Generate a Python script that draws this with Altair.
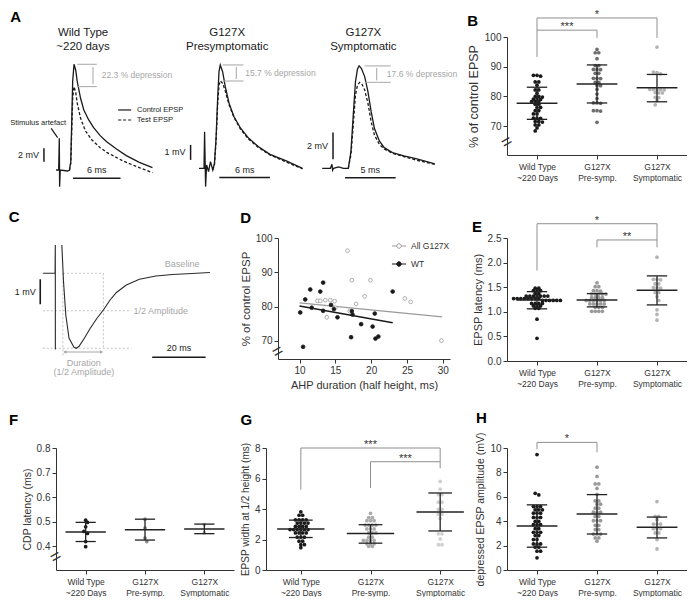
import altair as alt
import pandas as pd

FONT = "Liberation Sans"
INK = "#333333"
BLACK = "#1a1a1a"
GREY = "#a6a6a6"
BRKC = "#8f8f8f"
BARC = "#222222"

# ---------------- categories ----------------
CAT_LINES = [["Wild Type", "~220 Days"], ["G127X", "Pre-symp."], ["G127X", "Symptomatic"]]

# ---------------- Panel A : EPSP traces (ms, mV) ----------------
A_TITLES = [["Wild Type", "~220 days"], ["G127X", "Presymptomatic"], ["G127X", "Symptomatic"]]
A_DEPRESSION = ["22.3 % depression", "15.7 % depression", "17.6 % depression"]
A_MV_BAR = [2, 1, 2]
A_MS_BAR = [6, 6, 5]

A1_CTRL_T = [-0.41, -0.08, 0.0, 0.04, 0.12, 1.03, 1.28, 1.45, 1.57, 1.69, 1.86, 2.07, 2.27, 2.69, 3.10, 3.72, 4.34, 5.17, 5.99, 7.23, 8.47, 10.12, 11.78]
A1_CTRL_V = [0, 0, 4.75, -2.5, 0, -0.15, -0.05, 1.25, 7.25, 13.25, 15.85, 15.0, 13.25, 10.75, 9.0, 7.5, 6.35, 5.15, 4.25, 3.15, 2.15, 1.15, 0.35]
A1_TEST_T = [1.28, 1.45, 1.57, 1.69, 1.86, 2.07, 2.27, 2.69, 3.31, 4.13, 5.17, 5.99, 8.06, 10.12, 11.78]
A1_TEST_V = [-0.05, 1.0, 5.75, 10.75, 12.5, 11.65, 10.0, 7.75, 5.85, 4.5, 3.35, 2.65, 1.35, 0.35, -0.4]

A2_CTRL_T = [-0.78, -0.19, -0.12, 0.0, 0.12, 0.35, 0.58, 0.85, 1.05, 1.24, 1.43, 1.59, 1.74, 2.02, 2.33, 2.79, 3.37, 4.15, 5.12, 6.28, 7.64, 9.57, 11.5]
A2_CTRL_V = [0, 0, 2.44, -1.22, 0.22, -0.22, 0.44, -0.11, 0.33, 2.0, 4.67, 6.44, 6.89, 6.44, 5.44, 4.33, 3.44, 2.67, 2.0, 1.44, 0.93, 0.49, 0.0]
A2_TEST_T = [0.85, 1.05, 1.24, 1.43, 1.59, 1.74, 2.02, 2.33, 2.79, 3.37, 4.15, 5.12, 6.28, 7.64, 9.57, 11.5]
A2_TEST_V = [-0.11, 0.22, 1.78, 4.22, 5.56, 5.82, 5.67, 5.16, 4.22, 3.38, 2.6, 1.93, 1.38, 0.89, 0.42, -0.04]

A3_CTRL_T = [-0.97, -0.16, 0.0, 0.06, 0.16, 0.65, 1.13, 1.61, 1.87, 2.10, 2.32, 2.52, 2.68, 2.90, 3.23, 3.55, 3.87, 4.19, 4.68, 5.16, 5.97, 7.10, 8.39, 10.16]
A3_CTRL_V = [0, 0, 0.3, -0.15, 0, 0.1, 0, 0, 1.25, 4.0, 6.5, 7.45, 7.68, 7.5, 6.88, 5.75, 4.25, 3.0, 2.05, 1.55, 1.18, 0.93, 0.7, 0.33]
A3_TEST_T = [1.61, 1.87, 2.10, 2.32, 2.52, 2.74, 2.97, 3.23, 3.55, 3.87, 4.19, 4.68, 5.16, 5.97, 7.10, 8.39, 10.16]
A3_TEST_V = [0, 1.0, 3.25, 5.5, 6.25, 6.45, 6.3, 5.88, 4.88, 3.5, 2.5, 1.8, 1.45, 1.13, 0.88, 0.6, 0.3]

# ---------------- Panel C : AHP trace (ms, mV) ----------------
C_SEG1_T = [-4.66, -0.1, 0.0, 0.02]
C_SEG1_V = [0, 0, 1.13, -3.05]
C_SEG2_T = [2.45, 3.07, 3.93, 5.15, 7.0, 7.85, 8.83, 10.7, 13.1, 15.6, 18.0, 20.5, 22.9, 26.6, 31.5, 37.7, 43.8, 51.2, 57.9]
C_SEG2_V = [1.13, -0.33, -1.67, -2.6, -2.96, -3.0, -2.93, -2.63, -2.2, -1.8, -1.47, -1.07, -0.77, -0.47, -0.24, -0.11, -0.05, -0.01, 0.03]

# ---------------- Panel D : scatter ----------------
D_G_X = [16.7, 17.3, 19.9, 19.1, 12.5, 12.9, 13.6, 14.3, 14.9, 17.9, 24.7, 25.5, 15.0, 13.8, 17.0, 29.8]
D_G_Y = [96.3, 87.7, 87.7, 83.0, 81.7, 81.7, 81.9, 81.9, 81.6, 80.8, 82.4, 81.4, 79.7, 76.9, 78.7, 70.1]
D_W_X = [10.1, 10.8, 11.5, 12.9, 13.3, 11.7, 13.3, 14.4, 14.8, 15.3, 17.3, 17.4, 17.2, 18.6, 20.2, 20.5, 20.6, 21.0, 23.0, 10.5]
D_W_Y = [78.3, 82.1, 85.0, 84.4, 87.0, 79.7, 78.8, 80.5, 79.3, 76.9, 78.7, 77.7, 71.1, 74.9, 74.2, 78.0, 70.7, 71.3, 84.4, 68.3]
D_FIT_G_X = [10.0, 29.9]
D_FIT_G_Y = [81.1, 77.05]
D_FIT_W_X = [10.0, 23.0]
D_FIT_W_Y = [80.2, 75.3]
D_SERIES = ["All G127X", "WT"]

# ---------------- dot plots ----------------
B_WT = [87.1, 87.1, 86.8, 84.9, 84.9, 83.8, 82.2, 82.2, 81.1, 80.0, 80.0, 79.8, 79.1, 79.1, 79.0, 78.3, 78.3, 78.2, 77.4, 77.4, 76.3, 76.3, 75.2, 75.2, 74.1, 74.1, 72.7, 72.7, 72.6, 71.6, 71.6, 71.4, 70.4, 70.4, 69.4, 68.4]
B_PRE = [95.8, 94.7, 94.7, 92.7, 90.4, 90.4, 89.1, 89.1, 89.0, 87.8, 87.8, 86.1, 86.1, 86.0, 84.7, 84.7, 83.6, 83.6, 82.4, 80.8, 79.3, 77.8, 77.8, 77.7, 75.2, 75.2, 75.1, 71.3]
B_SYM = [96.6, 88.2, 88.0, 87.6, 82.4, 82.4, 82.3, 82.3, 82.2, 81.3, 81.2, 81.2, 79.7, 79.6, 78.6, 77.2]
B_MEAN = [77.7, 84.2, 82.9]
B_LO = [72.3, 77.8, 78.2]
B_HI = [83.1, 90.6, 87.4]
B_BRACKETS = [(0, 1, 102.3, 93.3, 99.7, "***"), (0, 2, 106.4, 102.3, 99.7, "*")]

E_WT = [1.48, 1.48, 1.43, 1.43, 1.43, 1.37, 1.37, 1.32, 1.32, 1.32, 1.32, 1.32, 1.32, 1.32, 1.27, 1.27, 1.27, 1.27, 1.27, 1.27, 1.27, 1.27, 1.23, 1.23, 1.23, 1.23, 1.23, 1.23, 1.17, 1.17, 1.17, 1.17, 1.12, 1.12, 1.12, 1.07, 1.07, 0.85, 0.46]
E_PRE = [1.59, 1.51, 1.51, 1.43, 1.43, 1.42, 1.36, 1.36, 1.36, 1.36, 1.36, 1.29, 1.29, 1.29, 1.29, 1.23, 1.23, 1.23, 1.23, 1.23, 1.23, 1.16, 1.16, 1.16, 1.16, 1.16, 1.09, 1.09, 1.09, 1.01, 1.01, 1.01, 1.01]
E_SYM = [2.11, 1.66, 1.66, 1.65, 1.57, 1.57, 1.49, 1.49, 1.48, 1.39, 1.39, 1.31, 1.23, 1.04, 0.95, 0.83]
E_MEAN = [1.24, 1.24, 1.44]
E_LO = [1.06, 1.10, 1.14]
E_HI = [1.41, 1.37, 1.73]
E_BRACKETS = [(0, 2, 2.79, 1.84, 2.46, "*"), (1, 2, 2.46, 2.31, 2.31, "**")]

F_WT = [0.506, 0.497, 0.479, 0.460, 0.452, 0.419, 0.398]
F_PRE = [0.510, 0.474, 0.433, 0.419]
F_SYM = [0.488, 0.455]
F_MEAN = [0.458, 0.467, 0.470]
F_LO = [0.419, 0.425, 0.451]
F_HI = [0.497, 0.510, 0.490]

G_WT = [3.81, 3.59, 3.59, 3.29, 3.29, 3.29, 3.29, 3.08, 3.08, 3.08, 3.08, 2.86, 2.86, 2.86, 2.86, 2.65, 2.65, 2.65, 2.65, 2.65, 2.65, 2.43, 2.43, 2.43, 2.43, 2.15, 2.15, 2.15, 1.89, 1.89, 1.66, 1.66, 1.46]
G_PRE = [3.72, 3.44, 3.44, 3.23, 3.23, 3.23, 2.95, 2.95, 2.95, 2.95, 2.69, 2.69, 2.69, 2.43, 2.43, 2.43, 2.15, 2.15, 1.94, 1.94, 1.94, 1.94, 1.72, 1.72, 1.72, 1.55, 1.55]
G_SYM = [5.81, 5.31, 4.95, 4.95, 4.45, 4.45, 3.98, 3.98, 3.66, 3.66, 3.38, 2.37, 2.37, 2.04, 1.66, 1.66]
G_MEAN = [2.69, 2.39, 3.81]
G_LO = [2.13, 1.76, 2.56]
G_HI = [3.27, 2.97, 5.05]
G_BRACKETS = [(0, 2, 8.0, 5.27, 7.1, "***"), (1, 2, 7.1, 5.38, 6.67, "***")]

H_WT = [9.46, 6.29, 6.15, 5.2, 5.2, 5.2, 4.93, 4.93, 4.93, 4.66, 4.66, 4.66, 4.31, 4.31, 4.31, 3.98, 3.98, 3.71, 3.71, 3.71, 3.39, 3.39, 3.09, 3.09, 3.09, 2.82, 2.82, 2.49, 2.49, 2.14, 2.14, 2.14, 1.87, 1.87, 1.54, 1.54, 1.0]
H_PRE = [8.43, 7.67, 7.05, 7.05, 6.69, 6.2, 5.66, 5.66, 5.39, 5.39, 5.07, 5.07, 4.74, 4.74, 4.74, 4.39, 4.39, 4.04, 4.04, 4.04, 3.66, 3.66, 3.31, 3.31, 2.95, 2.95, 2.95, 2.63, 2.63, 2.36]
H_SYM = [5.61, 4.39, 4.39, 4.12, 3.77, 3.77, 3.77, 3.39, 3.39, 3.39, 3.04, 3.04, 2.49, 1.73]
H_MEAN = [3.60, 4.60, 3.50]
H_LO = [1.87, 2.95, 2.63]
H_HI = [5.34, 6.18, 4.34]
H_BRACKETS = [(0, 1, 10.46, 9.9, 9.65, "*")]

# ---------------- helpers ----------------
def sc(dom):
    return alt.Scale(domain=list(dom), nice=False, zero=False)


def qx(f, scale, axis=None):
    return alt.X(f, type="quantitative", scale=scale, axis=axis)


def qy(f, scale, axis=None):
    return alt.Y(f, type="quantitative", scale=scale, axis=axis)


def letter(t, dx=0, offset=0):
    return alt.Title(t, anchor="start", fontSize=15, fontWeight="bold", color="black",
                     font=FONT, dx=dx, offset=offset)


def rules_layer(df, xs, ys, **mk):
    return alt.Chart(df).mark_rule(**mk).encode(
        x=qx("t1", xs), x2="t2", y=qy("v1", ys), y2="v2")


def text_layer(df, xs, ys, **mk):
    return alt.Chart(df).mark_text(font=FONT, **mk).encode(
        x=qx("t", xs), y=qy("v", ys), text="s:N")


# ---------------- Panel A ----------------
A_W, A_H = 403, 150
A_TITLE_ROWS = [-4.5, 9.5]   # pixel rows (from plot top) of the two title lines
A_LAYOUT = [
    dict(x0=3.3, ppm=7.91, y0=133.0, ppv=6.67, mv=(-1.94, 1.25), ms=(1.74, -1.25),
         dep=(2.27, 4.75), mark=4.26, dept=5.37, title=3.0),
    dict(x0=149.6, ppm=8.43, y0=131.3, ppv=15.0, mv=(-1.78, 0.56), ms=(1.63, -0.62),
         dep=(2.0, 4.5), mark=3.64, dept=4.7, title=2.56),
    dict(x0=276.0, ppm=10.12, y0=131.3, ppv=13.33, mv=(0.1, 0.68), ms=(1.29, -0.7),
         dep=(3.23, 5.8), mark=4.42, dept=5.42, title=3.1),
]
A_TRACES = [(A1_CTRL_T, A1_CTRL_V, A1_TEST_T, A1_TEST_V),
            (A2_CTRL_T, A2_CTRL_V, A2_TEST_T, A2_TEST_V),
            (A3_CTRL_T, A3_CTRL_V, A3_TEST_T, A3_TEST_V)]


def a_sub(k):
    L = A_LAYOUT[k]
    ct, cv, tt, tv = A_TRACES[k]
    xs = sc([-L["x0"] / L["ppm"], (A_W - L["x0"]) / L["ppm"]])
    ys = sc([-(A_H - L["y0"]) / L["ppv"], L["y0"] / L["ppv"]])
    px_t = 1.0 / L["ppm"]
    px_v = 1.0 / L["ppv"]
    ctrl = pd.DataFrame({"t": ct, "v": cv, "o": range(len(ct))})
    test = pd.DataFrame({"t": tt, "v": tv, "o": range(len(tt))})
    layers = [
        alt.Chart(ctrl).mark_line(color=BLACK, strokeWidth=1.3).encode(
            x=qx("t", xs), y=qy("v", ys), order="o:Q"),
        alt.Chart(test).mark_line(color=BLACK, strokeWidth=1.3, strokeDash=[3, 2]).encode(
            x=qx("t", xs), y=qy("v", ys), order="o:Q"),
    ]
    mvt, mvv = L["mv"]
    mst, msv = L["ms"]
    bars = pd.DataFrame({
        "t1": [mvt, mst], "t2": [mvt, mst + A_MS_BAR[k]],
        "v1": [mvv, msv], "v2": [mvv + A_MV_BAR[k], msv]})
    layers.append(rules_layer(bars, xs, ys, color=BLACK, strokeWidth=1.5))
    pc, pt = max(cv), max(tv)
    d1, d2 = L["dep"]
    gap = pc - pt
    dep = pd.DataFrame({
        "t1": [d1, d1, L["mark"]], "t2": [d2, d2, L["mark"]],
        "v1": [pc, pt, pt + 0.12 * gap], "v2": [pc, pt, pc - 0.12 * gap]})
    layers.append(rules_layer(dep, xs, ys, color=GREY, strokeWidth=1))
    layers.append(text_layer(pd.DataFrame({"t": [L["dept"]], "v": [(pc + pt) / 2], "s": [A_DEPRESSION[k]]}),
                             xs, ys, align="left", baseline="middle", fontSize=8.5, color=GREY))
    layers.append(text_layer(pd.DataFrame({"t": [mvt - 5 * px_t], "v": [mvv + A_MV_BAR[k] / 2.0],
                                           "s": ["%d mV" % A_MV_BAR[k]]}),
                             xs, ys, align="right", baseline="middle", fontSize=9, color=BLACK))
    layers.append(text_layer(pd.DataFrame({"t": [mst + A_MS_BAR[k] / 2.0], "v": [msv + 3 * px_v],
                                           "s": ["%d ms" % A_MS_BAR[k]]}),
                             xs, ys, align="center", baseline="bottom", fontSize=9, color=BLACK))
    title_df = pd.DataFrame({"t": [L["title"]] * 2,
                             "v": [(L["y0"] - r) / L["ppv"] for r in A_TITLE_ROWS],
                             "s": A_TITLES[k]})
    layers.append(text_layer(title_df, xs, ys, align="center", baseline="middle", fontSize=11.5, color=BLACK))
    if k == 0:
        leg = pd.DataFrame({"t1": [7.44, -1.03], "t2": [9.09, -0.21], "v1": [9.0, 6.25], "v2": [9.0, 4.85]})
        layers.append(rules_layer(leg, xs, ys, color=BLACK, strokeWidth=1.2))
        legd = pd.DataFrame({"t1": [7.44], "t2": [9.09], "v1": [7.5], "v2": [7.5]})
        layers.append(rules_layer(legd, xs, ys, color=BLACK, strokeWidth=1.2, strokeDash=[3, 2]))
        layers.append(text_layer(pd.DataFrame({"t": [9.83, 9.83, -6.2], "v": [9.0, 7.5, 7.0],
                                               "s": ["Control EPSP", "Test EPSP", "Stimulus artefact"]}),
                                 xs, ys, align="left", baseline="middle", fontSize=7.5, color=BLACK))
    return alt.layer(*layers)


chart_A = alt.layer(a_sub(0), a_sub(1), a_sub(2)).resolve_scale(
    x="independent", y="independent").properties(
    width=A_W, height=A_H, title=letter("A", offset=2))

# ---------------- Panel C ----------------
C_W, C_H = 165, 138
C_PPM = 2.67
C_T0 = 0.26
c_xs = sc([C_T0, C_T0 + C_W / C_PPM])
c_ys = sc([1.41 - C_H / 25.0, 1.41])
c_tr = pd.DataFrame({
    "t": C_SEG1_T + C_SEG2_T,
    "v": C_SEG1_V + C_SEG2_V,
    "seg": ["a"] * len(C_SEG1_T) + ["b"] * len(C_SEG2_T),
    "o": list(range(len(C_SEG1_T))) + list(range(len(C_SEG2_T)))})
half = min(C_SEG2_V) / 2.0
vmin = min(C_SEG2_V)
c_guides = pd.DataFrame({
    "t1": [2.85, 2.85, 18.0, -4.66, -4.66],
    "t2": [18.0, 2.85, 18.0, 28.5, 28.5],
    "v1": [0, 0, 0, half, vmin],
    "v2": [0, -3.3, vmin, half, vmin]})
c_arrow = pd.DataFrame({"t1": [3.3], "t2": [17.6], "v1": [-3.15], "v2": [-3.15]})
c_heads = pd.DataFrame({"t": [3.6, 17.3], "v": [-3.15, -3.15], "sh": ["triangle-left", "triangle-right"]})
c_bars = pd.DataFrame({"t1": [-5.64, 36.3], "t2": [-5.64, 56.3], "v1": [-0.24, -3.36], "v2": [-1.24, -3.36]})
c_gtext_c = pd.DataFrame({"t": [47.5, 39.5, 10.7, 10.7], "v": [0.37, half, -3.57, -3.96],
                          "s": ["Baseline", "1/2 Amplitude", "Duration", "(1/2 Amplitude)"]})
chart_C = alt.layer(
    rules_layer(c_guides, c_xs, c_ys, color="#bdbdbd", strokeWidth=0.9, strokeDash=[2, 2]),
    rules_layer(c_arrow, c_xs, c_ys, color=GREY, strokeWidth=1),
    alt.Chart(c_heads).mark_point(filled=True, size=12, color=GREY, opacity=1).encode(
        x=qx("t", c_xs), y=qy("v", c_ys), shape=alt.Shape("sh:N", scale=None)),
    alt.Chart(c_tr).mark_line(color="#2a2a2a", strokeWidth=1.1).encode(
        x=qx("t", c_xs), y=qy("v", c_ys), detail="seg:N", order="o:Q"),
    rules_layer(c_bars, c_xs, c_ys, color=BLACK, strokeWidth=1.6),
    text_layer(c_gtext_c, c_xs, c_ys, align="center", baseline="middle", fontSize=9, color=GREY),
    text_layer(pd.DataFrame({"t": [-7.3], "v": [-0.74], "s": ["1 mV"]}), c_xs, c_ys,
               align="right", baseline="middle", fontSize=9, color=BLACK),
    text_layer(pd.DataFrame({"t": [46.3], "v": [-3.2], "s": ["20 ms"]}), c_xs, c_ys,
               align="center", baseline="bottom", fontSize=9, color=BLACK),
).properties(width=C_W, height=C_H, title=letter("C", dx=-6, offset=13))

# ---------------- Panel D ----------------
D_W, D_H = 172, 121
d_xs = sc([7, 31])
d_ys = sc([64.75, 100])
d_xax = alt.Axis(values=[10, 15, 20, 25, 30], title="AHP duration (half height, ms)", titleFontSize=11,
                 titleFontWeight="normal", titleColor=INK, labelFontSize=10, labelColor=INK, grid=False,
                 tickSize=4, labelPadding=2, titlePadding=4, domainColor=INK, tickColor=INK)
d_yax = alt.Axis(values=[70, 80, 90, 100], title="% of control EPSP", titleFontSize=11.5,
                 titleFontWeight="normal", titleColor=INK, labelFontSize=10, labelColor=INK, grid=False,
                 tickSize=4, labelPadding=2, titlePadding=4, domainColor=INK, tickColor=INK)
d_pts = pd.DataFrame({"x": D_G_X + D_W_X, "y": D_G_Y + D_W_Y,
                      "g": [D_SERIES[0]] * len(D_G_X) + [D_SERIES[1]] * len(D_W_X)})
LEG_PATH = "M-1,0L-0.32,0M0.32,0L1,0M0.32,0A0.32,0.32,0,1,1,-0.32,0A0.32,0.32,0,1,1,0.32,0Z"
d_leg = alt.Legend(title=None, orient="top-right", symbolType=LEG_PATH, symbolSize=200,
                   symbolStrokeWidth=1, labelFontSize=8.5, labelColor=INK, labelFont=FONT,
                   rowPadding=5, offset=0, padding=0)
chart_D = alt.layer(
    alt.Chart(pd.DataFrame({"x": D_FIT_G_X, "y": D_FIT_G_Y})).mark_line(color="#9a9a9a", strokeWidth=1.2).encode(
        x=qx("x", d_xs, d_xax), y=qy("y", d_ys, d_yax)),
    alt.Chart(pd.DataFrame({"x": D_FIT_W_X, "y": D_FIT_W_Y})).mark_line(color=BLACK, strokeWidth=1.5).encode(
        x=qx("x", d_xs, d_xax), y=qy("y", d_ys, d_yax)),
    alt.Chart(d_pts).mark_point(size=14, strokeWidth=0.8, opacity=1, filled=False).encode(
        x=qx("x", d_xs, d_xax), y=qy("y", d_ys, d_yax),
        color=alt.Color("g:N", scale=alt.Scale(domain=D_SERIES, range=["#9a9a9a", BLACK]), legend=d_leg),
        fill=alt.Fill("g:N", scale=alt.Scale(domain=D_SERIES, range=["white", BLACK]), legend=d_leg)),
    alt.Chart(pd.DataFrame({"x": [7], "y": [66.8], "s": ["="]})).mark_text(
        font=FONT, fontSize=18, angle=330, color=INK, baseline="middle").encode(
        x=qx("x", d_xs, d_xax), y=qy("y", d_ys, d_yax), text="s:N"),
).properties(width=D_W, height=D_H, title=letter("D", offset=7))

# ---------------- dot plots ----------------
LABEL_EXPR = ("datum.value == 0 ? ['%s', '%s'] : (datum.value == 1 ? ['%s', '%s'] : ['%s', '%s'])"
              % tuple(s for pair in CAT_LINES for s in pair))


def swarm(vals, ppy, ppx, tol=2.2, gap=3.6):
    order = sorted(range(len(vals)), key=lambda k: -vals[k])
    rows = []
    for k in order:
        if rows and (vals[rows[-1][0]] - vals[k]) * ppy < tol:
            rows[-1].append(k)
        else:
            rows.append([k])
    offs = [0.0] * len(vals)
    prev = None
    flip = 1
    for row in rows:
        n = len(row)
        shift = 0.0
        if prev is not None:
            pv, pn, ps = prev
            if (pv - vals[row[0]]) * ppy < 4.2 and (pn % 2) == (n % 2) and ps == 0.0:
                shift = flip * gap / 2.0
                flip = -flip
        for j, k in enumerate(row):
            offs[k] = ((j - (n - 1) / 2.0) * gap + shift) / ppx
        prev = (vals[row[0]], n, shift)
    return offs


def dot_panel(let, groups, colors, means, los, his, brackets, ydom, yticks, yfmt, ytitle, w, h,
              ytitle_size=11, brk=None, tdx=0, toff=0):
    ppx = w / 3.0
    ppy = h / float(ydom[1] - ydom[0])
    rows = []
    for gi, vals in enumerate(groups):
        for v, o in zip(vals, swarm(vals, ppy, ppx)):
            rows.append({"x": gi + o, "y": v, "col": colors[gi]})
    xs = sc([-0.5, 2.5])
    ys = sc(ydom)
    xax = alt.Axis(values=[0, 1, 2], labelExpr=LABEL_EXPR, title=None, grid=False, tickSize=4,
                   labelFontSize=8.5, labelPadding=3, labelLineHeight=11, labelColor=INK,
                   domainColor=INK, tickColor=INK, labelAngle=0)
    yax = alt.Axis(values=yticks, format=yfmt, title=ytitle, titleFontSize=ytitle_size,
                   titleFontWeight="normal", titleColor=INK, labelFontSize=10, labelColor=INK,
                   grid=False, tickSize=4, labelPadding=2, titlePadding=4, domainColor=INK, tickColor=INK)
    X = lambda f: qx(f, xs, xax)
    Y = lambda f: qy(f, ys, yax)
    layers = [alt.Chart(pd.DataFrame(rows)).mark_circle(size=14, opacity=1).encode(
        x=X("x"), y=Y("y"), color=alt.Color("col:N", scale=None))]
    st = pd.DataFrame({"i": [0, 1, 2], "m": means, "lo": los, "hi": his})
    st["m1"] = st["i"] - 0.34
    st["m2"] = st["i"] + 0.34
    st["c1"] = st["i"] - 0.17
    st["c2"] = st["i"] + 0.17
    base = alt.Chart(st)
    layers += [
        base.mark_rule(color=BARC, strokeWidth=1.3).encode(x=X("i"), y=Y("lo"), y2="hi"),
        base.mark_rule(color=BARC, strokeWidth=1.5).encode(x=X("m1"), x2="m2", y=Y("m")),
        base.mark_rule(color=BARC, strokeWidth=1.3).encode(x=X("c1"), x2="c2", y=Y("lo")),
        base.mark_rule(color=BARC, strokeWidth=1.3).encode(x=X("c1"), x2="c2", y=Y("hi")),
    ]
    if brackets:
        bdf = pd.DataFrame(brackets, columns=["a", "b", "lev", "lb", "rb", "lab"])
        bdf["mid"] = (bdf["a"] + bdf["b"]) / 2.0
        bb = alt.Chart(bdf)
        layers += [
            bb.mark_rule(color=BRKC, strokeWidth=1).encode(x=X("a"), x2="b", y=Y("lev")),
            bb.mark_rule(color=BRKC, strokeWidth=1).encode(x=X("a"), y=Y("lb"), y2="lev"),
            bb.mark_rule(color=BRKC, strokeWidth=1).encode(x=X("b"), y=Y("rb"), y2="lev"),
            bb.mark_text(font=FONT, fontSize=11, color=INK, baseline="alphabetic", dy=0).encode(
                x=X("mid"), y=Y("lev"), text="lab:N"),
        ]
    if brk is not None:
        layers.append(alt.Chart(pd.DataFrame({"x": [-0.5], "y": [brk], "s": ["="]})).mark_text(
            font=FONT, fontSize=18, angle=330, color=INK, baseline="middle").encode(
            x=X("x"), y=Y("y"), text="s:N"))
    return alt.layer(*layers).properties(width=w, height=h, title=letter(let, dx=tdx, offset=toff))


chart_B = dot_panel("B", [B_WT, B_PRE, B_SYM], [BLACK, "#6e6e6e", "#b4b4b4"], B_MEAN, B_LO, B_HI,
                    B_BRACKETS, [60.3, 100], [70, 80, 90, 100], "d", "% of control EPSP", 180, 118,
                    ytitle_size=12.5, brk=64.5, toff=-20)
chart_E = dot_panel("E", [E_WT, E_PRE, E_SYM], [BLACK, "#9a9a9a", "#b4b4b4"], E_MEAN, E_LO, E_HI,
                    E_BRACKETS, [0, 2.5], [0, 0.5, 1.0, 1.5, 2.0, 2.5], ".1f", "EPSP latency (ms)", 180, 123,
                    ytitle_size=11, toff=-20)
chart_F = dot_panel("F", [F_WT, F_PRE, F_SYM], [BLACK, "#8a8a8a", "#b4b4b4"], F_MEAN, F_LO, F_HI,
                    None, [0.303, 0.8], [0.4, 0.5, 0.6, 0.7, 0.8], ".1f", "CDP latency (ms)", 178, 122,
                    ytitle_size=10.5, brk=0.355, tdx=-13, toff=15)
chart_G = dot_panel("G", [G_WT, G_PRE, G_SYM], [BLACK, "#ababab", "#cfcfcf"], G_MEAN, G_LO, G_HI,
                    G_BRACKETS, [0, 8], [0, 2, 4, 6, 8], "d", "EPSP width at  1/2 height (ms)", 209, 122,
                    ytitle_size=10, toff=11)
chart_H = dot_panel("H", [H_WT, H_PRE, H_SYM], [BLACK, "#9a9a9a", "#b4b4b4"], H_MEAN, H_LO, H_HI,
                    H_BRACKETS, [0, 10], [0, 2, 4, 6, 8, 10], "d", "depressed EPSP amplitude (mV)", 180, 122,
                    ytitle_size=10.5, toff=6)

IND = dict(color="independent", fill="independent")
row1 = alt.hconcat(chart_A, chart_B, spacing=48, bounds="flush").resolve_legend(**IND).resolve_scale(**IND)
row2 = alt.hconcat(chart_C, chart_D, chart_E, spacing=57, bounds="flush").resolve_legend(**IND).resolve_scale(**IND)
row3 = alt.hconcat(chart_F, chart_G, chart_H, spacing=32, bounds="flush").resolve_legend(**IND).resolve_scale(**IND)

chart = alt.concat(row1, row2, row3, columns=1, spacing=20, align="none", padding=0).resolve_legend(
    **IND).resolve_scale(**IND).configure(font=FONT).configure_view(stroke=None).configure_axis(
    labelFont=FONT, titleFont=FONT)

chart.save("out.html", embed_options={"renderer": "svg", "actions": False})
